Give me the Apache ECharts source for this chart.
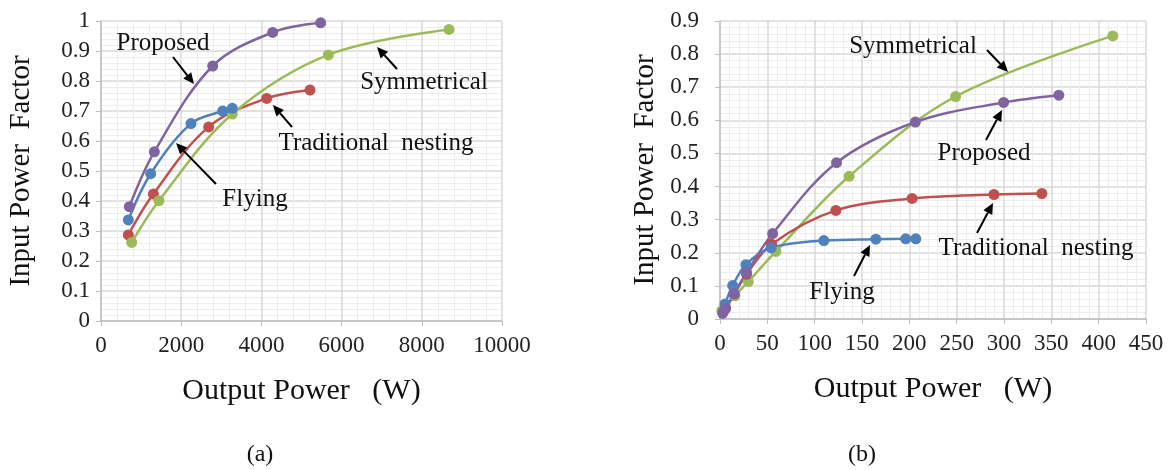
<!DOCTYPE html>
<html>
<head>
<meta charset="utf-8">
<script src="https://cdn.jsdelivr.net/npm/echarts@6/dist/echarts.min.js"></script>
<style>
  html, body { margin: 0; padding: 0; background: #fff; }
  #chart { width: 1172px; height: 470px; }
</style>
</head>
<body>
<div id="chart"></div>
<script>
// (a) output power in W, input power factor
const aProposed = [[706, 0.381], [1330, 0.564], [2785, 0.85], [4281, 0.962], [5478, 0.994]]
const aFlying = [[681, 0.337], [1239, 0.491], [2244, 0.658], [3035, 0.70], [3275, 0.709]]
const aTraditional = [[681, 0.287], [1305, 0.423], [2685, 0.647], [4132, 0.742], [5212, 0.77]]
const aSymmetrical = [[765, 0.262], [1446, 0.401], [3275, 0.69], [5669, 0.887], [8678, 0.972]]

// (b)
const bProposed = [[2.8, 0.017], [6, 0.032], [14.8, 0.076], [28.1, 0.14], [55.6, 0.258], [123.1, 0.472], [206.4, 0.595], [299.6, 0.654], [357.9, 0.676]]
const bFlying = [[5.3, 0.045], [13.4, 0.101], [27.4, 0.164], [54, 0.215], [109.7, 0.237], [164.6, 0.241], [196.2, 0.242], [206.8, 0.242]]
const bTraditional = [[3.5, 0.022], [15.1, 0.076], [28, 0.135], [54.5, 0.226], [122.4, 0.328], [202.9, 0.364], [289.4, 0.376], [340, 0.379]]
const bSymmetrical = [[2, 0.025], [15.8, 0.07], [29.9, 0.113], [59, 0.204], [136.4, 0.431], [248.9, 0.672], [414.9, 0.855]]

const colors = { proposed: '#8064A2', flying: '#4F81BD', traditional: '#C0504D', symmetrical: '#9BBB59' }
const serif = 'Liberation Serif'

// annotation labels: text, text centre, arrow tail, arrow tip (pixels)
const notes = [
  ['Proposed', 163, 43, 173, 57, 194, 84],
  ['Flying', 255, 199, 216, 184, 176, 143],
  ['Traditional  nesting', 376, 143, 292, 127, 273, 105],
  ['Symmetrical', 424, 82, 397, 69, 377, 47],
  ['Symmetrical', 913, 46, 987, 50, 1008, 72],
  ['Proposed', 984, 153, 986, 140, 1002, 110],
  ['Traditional  nesting', 1036, 248, 977, 233, 993, 203],
  ['Flying', 842, 292, 854, 276, 870, 245]
]

function arrow (x1, y1, x2, y2) {
  const a = Math.atan2(y2 - y1, x2 - x1)
  const len = 11
  const w = 5
  const bx = x2 - len * Math.cos(a)
  const by = y2 - len * Math.sin(a)
  return [
    { type: 'line', z: 100, shape: { x1: x1, y1: y1, x2: bx, y2: by }, style: { stroke: '#000', lineWidth: 2, lineDash: null } },
    {
      type: 'polygon',
      z: 100,
      shape: {
        points: [[x2, y2],
          [bx + w * Math.sin(a), by - w * Math.cos(a)],
          [bx - w * Math.sin(a), by + w * Math.cos(a)]]
      },
      style: { fill: '#000', stroke: null }
    }
  ]
}

function label (text, x, y, size) {
  return {
    type: 'text',
    z: 100,
    x: x,
    y: y,
    style: {
      text: text,
      fontFamily: serif,
      fontSize: size,
      fill: '#111',
      stroke: null,
      lineWidth: 0,
      align: 'center',
      verticalAlign: 'middle'
    }
  }
}

const graphics = []
notes.forEach(n => {
  graphics.push(label(n[0], n[1], n[2], 25))
  arrow(n[3], n[4], n[5], n[6]).forEach(g => graphics.push(g))
})
graphics.push(label('(a)', 260, 455, 24))
graphics.push(label('(b)', 862, 455, 24))

function xAxis (idx, max, interval) {
  return {
    type: 'value',
    gridIndex: idx,
    min: 0,
    max: max,
    interval: interval,
    name: 'Output Power   (W)',
    nameLocation: 'middle',
    nameGap: 55,
    nameTextStyle: { fontFamily: serif, fontSize: 30, color: '#111' },
    axisLine: { show: true, lineStyle: { color: '#BFBFBF', width: 1.5 } },
    axisTick: { show: true, length: 5, lineStyle: { color: '#BFBFBF' } },
    axisLabel: { fontFamily: serif, fontSize: 23, color: '#222', margin: 13, formatter: v => String(v) },
    splitLine: { show: true, lineStyle: { color: '#D9D9D9', width: 1.5 } },
    minorTick: { show: false, splitNumber: 5 },
    minorSplitLine: { show: true, lineStyle: { color: '#EDEDED', width: 1 } }
  }
}

function yAxis (idx, max, gap, margin) {
  return {
    type: 'value',
    gridIndex: idx,
    min: 0,
    max: max,
    interval: 0.1,
    name: 'Input Power  Factor',
    nameLocation: 'middle',
    nameGap: gap,
    nameTextStyle: { fontFamily: serif, fontSize: 29, color: '#111' },
    axisLine: { show: true, lineStyle: { color: '#BFBFBF', width: 1.5 } },
    axisTick: { show: true, length: 5, lineStyle: { color: '#BFBFBF' } },
    axisLabel: { fontFamily: serif, fontSize: 23, color: '#222', margin: margin },
    splitLine: { show: true, lineStyle: { color: '#D9D9D9', width: 1.5 } },
    minorTick: { show: false, splitNumber: 5 },
    minorSplitLine: { show: true, lineStyle: { color: '#EDEDED', width: 1 } }
  }
}

function line (name, data, idx) {
  return {
    name: name,
    type: 'line',
    xAxisIndex: idx,
    yAxisIndex: idx,
    data: data,
    smooth: 0.35,
    symbol: 'circle',
    symbolSize: 11,
    color: colors[name],
    lineStyle: { width: 2.5 },
    animation: false
  }
}

const myChart = echarts.init(document.getElementById('chart'))
myChart.setOption({
  animation: false,
  grid: [
    { left: 101, right: 670, top: 21, bottom: 149, containLabel: false },
    { left: 720, right: 26, top: 21, bottom: 151, containLabel: false }
  ],
  xAxis: [xAxis(0, 10000, 2000), xAxis(1, 450, 50)],
  yAxis: [yAxis(0, 1, 65, 11), yAxis(1, 0.9, 60, 21)],
  series: [
    line('traditional', aTraditional, 0),
    line('symmetrical', aSymmetrical, 0),
    line('flying', aFlying, 0),
    line('proposed', aProposed, 0),
    line('symmetrical', bSymmetrical, 1),
    line('traditional', bTraditional, 1),
    line('flying', bFlying, 1),
    line('proposed', bProposed, 1)
  ],
  graphic: graphics
})
</script>
</body>
</html>
